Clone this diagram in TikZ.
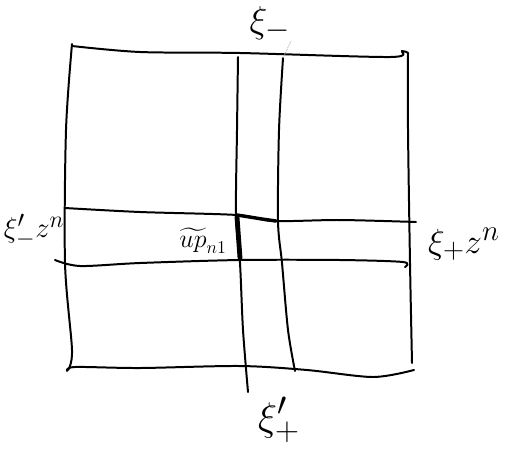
\documentclass[tikz,border=0pt]{standalone}
\usepackage{amsmath}
\begin{document}
\begin{tikzpicture}[x=1pt, y=-1pt,
    pen/.style={line width=0.7mm, black, line cap=round, line join=round},
    boldpen/.style={line width=1.7mm, black, line cap=round},
    lab/.style={font=\Huge, inner sep=0pt}]
    \useasboundingbox (0,0) rectangle (510,461);

    %Outline of the square
    \draw[pen] plot[smooth, tension=0.5] coordinates {(72,46) (140,52) (240,53) (390,57) (402,51) (408,53)};
    \draw[pen] plot[smooth, tension=0.5] coordinates {(408,53) (408,130) (410,263) (412,363)};
    \draw[pen] plot[smooth, tension=0.5] coordinates {(67,371) (75,367) (140,368) (240,366) (307,370) (373,377) (414,370)};
    \draw[pen] plot[smooth, tension=0.5] coordinates {(72,44) (66,130) (65,263) (72,350) (68,370)};

    %vertical strip
    \draw[pen] plot[smooth, tension=0.5] coordinates {(238,57) (237,130) (236,214) (240,263) (243,330) (248,392)};
    \draw[pen] plot[smooth, tension=0.5] coordinates {(283,58) (279,130) (278,221) (282,263) (288,330) (295,371)};
    \draw[gray!60, densely dotted, line width=0.3mm] (283,58) -- (291,41);

    %horizontal strip
    \draw[pen] plot[smooth, tension=0.5] coordinates {(65,208) (140,212) (237,215) (273,221) (340,220) (416,222)};
    \draw[pen] plot[smooth, tension=0.5] coordinates {(55,260) (80,266) (140,263) (240,260) (340,260) (403,262) (405,267)};

    %overlap corner
    \draw[boldpen] (237,217) -- (240,258);
    \draw[line width=1.2mm, black, line cap=round] (237,215) -- (262,219) -- (276,221);

    %labels
    \node[lab] (xim) at (270,24) {\scalebox{1.5}{$\xi_{-}$}};
    \node[lab] (ximz) at (34,231) {\scalebox{1.15}{$\xi'_{-}z^{n}$}};
    \node[lab] (xipz) at (464,244) {\scalebox{1.4}{$\xi_{+}z^{n}$}};
    \node[lab] (xip) at (279,420) {\scalebox{1.6}{$\xi'_{+}$}};
    \node[font=\LARGE, inner sep=0pt] (upn) at (203,241) {\scalebox{1.5}{$\widetilde{up}_{n1}$}};
\end{tikzpicture}
\end{document}
